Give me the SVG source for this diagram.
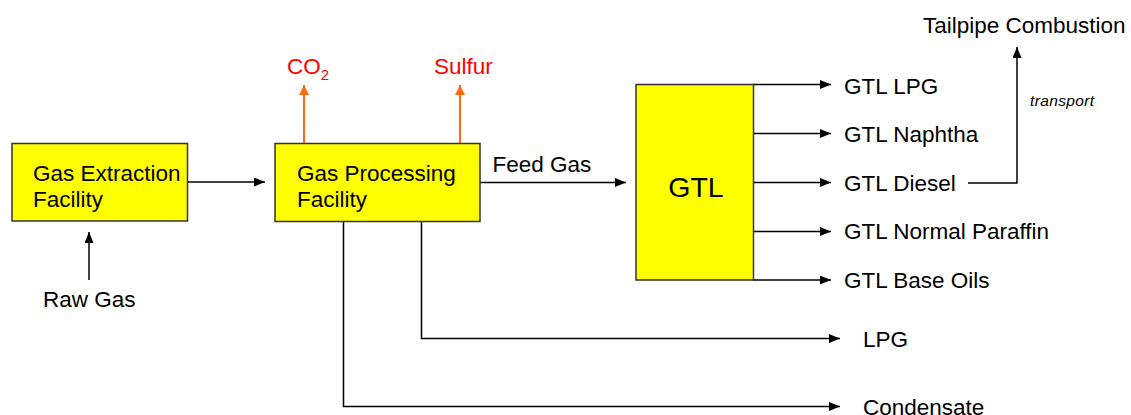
<svg xmlns="http://www.w3.org/2000/svg" width="1131" height="415" viewBox="0 0 1131 415">
<style>
text{font-family:"Liberation Sans",Arial,sans-serif;font-size:22.5px;fill:#000}
.box{fill:#FFFF00;stroke:#333;stroke-width:1.5}
.ln{fill:none;stroke:#000;stroke-width:1.5}
.or{fill:none;stroke:#FF6A13;stroke-width:2}
.red{fill:#FF0000}
</style>
<defs>
<marker id="ah" markerWidth="11" markerHeight="9" refX="11" refY="4.5" orient="auto" markerUnits="userSpaceOnUse"><path d="M0,0 L11,4.5 L0,9 Z" fill="#000"/></marker>
<marker id="ao" markerWidth="10" markerHeight="10" refX="10" refY="5" orient="auto" markerUnits="userSpaceOnUse"><path d="M0,0 L10,5 L0,10 Z" fill="#FF6A13"/></marker>
</defs>
<g id="connectors">
<path class="ln" d="M187,182 H265" marker-end="url(#ah)"/>
<path class="ln" d="M89,280 V232" marker-end="url(#ah)"/>
<path class="or" d="M304,143 V85" marker-end="url(#ao)"/>
<path class="or" d="M460,143 V85" marker-end="url(#ao)"/>
<path class="ln" d="M480,182.5 H626" marker-end="url(#ah)"/>
<path class="ln" d="M753,84.5 H831" marker-end="url(#ah)"/>
<path class="ln" d="M753,133.5 H831" marker-end="url(#ah)"/>
<path class="ln" d="M753,182.5 H831" marker-end="url(#ah)"/>
<path class="ln" d="M753,231.5 H831" marker-end="url(#ah)"/>
<path class="ln" d="M753,280 H831" marker-end="url(#ah)"/>
<path class="ln" d="M968,183 H1017 V47" marker-end="url(#ah)"/>
<path class="ln" d="M421.5,221 V338.5 H840" marker-end="url(#ah)"/>
<path class="ln" d="M343.5,221 V406.5 H840" marker-end="url(#ah)"/>
<text x="1030" y="105.5" style="font-size:15.5px;font-style:italic" textLength="64">transport</text>
<text x="492.5" y="171.5">Feed Gas</text>
</g>
<g id="gas-extraction">
<rect class="box" x="12" y="143.5" width="175.5" height="77.5"/>
<text x="33" y="180.5">Gas Extraction</text>
<text x="33" y="207">Facility</text>
</g>
<g id="raw-gas"><text x="43" y="307">Raw Gas</text></g>
<g id="gas-processing">
<rect class="box" x="275" y="143.5" width="205" height="78"/>
<text x="297" y="180.5">Gas Processing</text>
<text x="297" y="207">Facility</text>
</g>
<g id="co2"><text class="red" x="287" y="73.5">CO<tspan style="font-size:15px" dy="6.5">2</tspan></text></g>
<g id="sulfur"><text class="red" x="434" y="73.5">Sulfur</text></g>
<g id="gtl">
<rect class="box" x="636" y="84.5" width="117.5" height="195.5"/>
<text x="696" y="196.5" style="font-size:28.5px" text-anchor="middle">GTL</text>
</g>
<g id="gtl-lpg"><text x="844" y="93.5">GTL LPG</text></g>
<g id="gtl-naphtha"><text x="844" y="142">GTL Naphtha</text></g>
<g id="gtl-diesel"><text x="844" y="190.5">GTL Diesel</text></g>
<g id="gtl-normal-paraffin"><text x="844" y="239">GTL Normal Paraffin</text></g>
<g id="gtl-base-oils"><text x="844" y="287.5">GTL Base Oils</text></g>
<g id="tailpipe"><text x="923" y="33">Tailpipe Combustion</text></g>
<g id="lpg"><text x="863" y="346.5">LPG</text></g>
<g id="condensate"><text x="863" y="414.5">Condensate</text></g>
</svg>
